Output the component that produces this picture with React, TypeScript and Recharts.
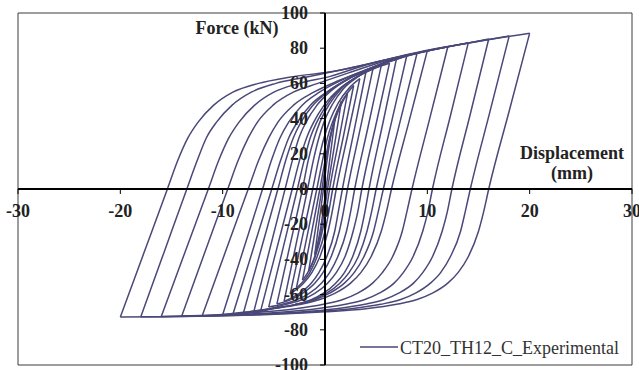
import React from "react";
import { LineChart, Line, XAxis, YAxis, ReferenceLine, ReferenceDot, ReferenceArea } from "recharts";

type Pt = [number, number];

const xTicks = [-30, -20, -10, 0, 10, 20, 30];
const yTicks = [-100, -80, -60, -40, -20, 0, 20, 40, 60, 80, 100];
const seriesName = "CT20_TH12_C_Experimental";
const xTitle = ["Displacement", "(mm)"];
const yTitle = "Force (kN)";

// Reloading branches (negative peak -> positive peak), displacement mm / force kN
const up20: Pt[] = [[-20,-72.7],[-17.7,-36.4],[-15.4,0],[-14.4,16],[-13.4,29],[-12.4,38],[-10.9,47.5],[-9,55],[-6.5,60],[-3.5,63.5],[0.4,66.5],[10,78.8],[20,88.5]];
const up18: Pt[] = [[-18,-72.6],[-15.75,-36.3],[-13.5,0],[-12.5,16],[-11.6,29],[-10.6,38],[-9.1,47.5],[-7.2,55],[-4.8,60],[-1.9,63.5],[2,68.2],[10,78.6],[18,87]];
const up16: Pt[] = [[-16,-72.5],[-13.7,-36.2],[-11.4,0],[-10.4,16],[-9.4,29],[-8.4,38],[-6.9,47.5],[-5,55],[-2.5,60],[0.5,64],[4.4,71.2],[10,78.4],[16,85.3]];
const up14: Pt[] = [[-14,-72.2],[-11.75,-36.1],[-9.5,0],[-8.5,16],[-7.5,29],[-6.6,38],[-5.1,47.5],[-3.1,55],[-0.7,60],[2.3,66],[6.2,73.3],[14,83]];
const up12: Pt[] = [[-12,-72],[-9.75,-36],[-7.5,0],[-6.5,16],[-5.5,29],[-4.6,38],[-3.1,47.5],[-1.1,55],[1.3,61.5],[4.3,68.2],[8.2,75.8],[12,80.8]];
const up10: Pt[] = [[-10,-71.5],[-8.05,-35.8],[-6.1,0],[-5.25,16],[-4.4,29],[-3.55,38],[-2.25,47.5],[-0.55,55],[1.6,61.8],[4.15,68.1],[7.6,75],[10,78.6]];
const up9: Pt[] = [[-9,-71.2],[-7.1,-35.6],[-5.2,0],[-4.35,16],[-3.55,29],[-2.7,38],[-1.45,47.5],[0.2,55.2],[2.3,62.5],[4.8,68.8],[8.1,76.1],[9,77.3]];
const up8: Pt[] = [[-8,-71],[-6.3,-35.5],[-4.6,0],[-3.85,16],[-3.1,29],[-2.35,38],[-1.2,47.5],[0.3,55.3],[2.2,62.4],[4.4,68.4],[7.4,75.2],[8,76]];
const up7: Pt[] = [[-7,-70.7],[-5.45,-35.4],[-3.9,0],[-3.2,16],[-2.55,29],[-1.85,38],[-0.8,47.5],[0.55,55.6],[2.25,62.5],[4.3,68.3],[7,74.5]];
const up6: Pt[] = [[-6.3,-69.5],[-4.75,-34.75],[-3.2,0],[-2.5,16],[-1.8,29],[-1.1,38],[-0.1,47.5],[1.3,56.4],[3.05,63.4],[5.1,69.1],[6.3,71.5]];
const up5: Pt[] = [[-5.5,-67.1],[-4.1,-33.6],[-2.7,0],[-2.05,16],[-1.45,29],[-0.8,38],[0.15,47.7],[1.4,56.6],[3,63.3],[4.9,68.9],[5.5,70.2]];
const up4b: Pt[] = [[-4.7,-65.3],[-3.45,-32.7],[-2.2,0],[-1.65,16],[-1.05,29],[-0.5,38],[0.4,47.9],[1.55,56.7],[3,63.3],[4.7,68.7]];
const up4: Pt[] = [[-4,-63.9],[-2.85,-32],[-1.7,0],[-1.15,16],[-0.6,29],[-0.1,38],[0.75,48.3],[1.8,57],[3.15,63.5],[4,66.5]];
const up3b: Pt[] = [[-3.4,-59.6],[-2.3,-29.8],[-1.2,0],[-0.65,16],[-0.1,29],[0.45,38.5],[1.3,48.9],[2.4,57.6],[3.4,62.7]];
const up3: Pt[] = [[-2.8,-56.4],[-1.8,-28.2],[-0.8,0],[-0.25,16],[0.25,29.3],[0.8,38.9],[1.6,49.2],[2.8,58.8]];
const up2: Pt[] = [[-2.2,-51.8],[-1.35,-25.9],[-0.5,0],[0,16],[0.47,29.5],[0.96,39],[1.7,49.3],[2.2,54.4]];
const up1b: Pt[] = [[-1.6,-46.7],[-0.95,-23.4],[-0.3,0],[0.1,16.1],[0.53,29.6],[0.94,39],[1.6,49.8]];
const up1: Pt[] = [[-1,-37.3],[-0.58,-18.7],[-0.15,0],[0.2,16.2],[0.55,29.6],[1,41.1]];

// Unloading branches (positive peak -> negative peak), listed by increasing displacement
const dn20: Pt[] = [[-20,-72.7],[-6,-71.4],[0,-69.8],[4,-68],[7,-65.5],[9,-62.8],[10.5,-59.2],[12,-53.5],[13,-47.5],[14,-38.5],[15,-24],[15.5,-13],[16,0],[18,44.3],[20,88.5]];
const dn18: Pt[] = [[-18,-72.6],[-7.2,-71.4],[-1.3,-69.9],[2.55,-68],[5.45,-65.5],[7.4,-62.8],[8.85,-59.2],[10.3,-53.5],[11.3,-47.5],[12.25,-38.5],[13.25,-24],[13.7,-13],[14.2,0],[16.1,43.5],[18,87]];
const dn16: Pt[] = [[-16,-72.5],[-8.35,-71.5],[-2.7,-70],[1.1,-68],[3.9,-65.5],[5.8,-62.8],[7.2,-59.2],[8.65,-53.5],[9.55,-47.5],[10.5,-38.5],[11.45,-24],[11.95,-13],[12.4,0],[14.2,42.6],[16,85.3]];
const dn14: Pt[] = [[-14,-72.2],[-10.25,-71.6],[-4.6,-70.1],[-0.8,-68],[2,-65.5],[3.9,-62.8],[5.3,-59.2],[6.75,-53.5],[7.65,-47.5],[8.6,-38.5],[9.55,-24],[10.05,-13],[10.5,0],[12.25,41.5],[14,83]];
const dn12: Pt[] = [[-12,-72],[-6.9,-70.2],[-3.05,-68.2],[-0.15,-65.5],[1.75,-62.8],[3.2,-59.2],[4.65,-53.5],[5.6,-47.5],[6.6,-38.5],[7.55,-24],[8,-13],[8.5,0],[10.25,40.4],[12,80.8]];
const dn10: Pt[] = [[-10,-71.5],[-5.5,-68.3],[-2.5,-65.7],[-0.5,-62.8],[1,-59.2],[2.5,-53.5],[3.5,-47.5],[4.5,-38.5],[5.5,-24],[6,-13],[6.5,0],[8.25,39.3],[10,78.6]];
const dn9: Pt[] = [[-9,-71.2],[-5.75,-68.35],[-2.85,-65.7],[-0.95,-62.9],[0.45,-59.2],[1.9,-53.5],[2.85,-47.5],[3.8,-38.5],[4.75,-24],[5.2,-13],[5.7,0],[7.35,38.6],[9,77.3]];
const dn8: Pt[] = [[-8,-71],[-5.6,-68.3],[-2.95,-65.7],[-1.2,-62.9],[0.15,-59.2],[1.45,-53.5],[2.35,-47.5],[3.25,-38.5],[4.1,-24],[4.55,-13],[5,0],[6.5,38],[8,76]];
const dn7: Pt[] = [[-7,-70.7],[-5.4,-68.3],[-2.95,-65.7],[-1.35,-62.9],[-0.15,-59.2],[1.05,-53.5],[1.9,-47.5],[2.7,-38.5],[3.5,-24],[3.9,-13],[4.3,0],[5.65,37.2],[7,74.5]];
const dn6: Pt[] = [[-6.3,-69.5],[-3.9,-65.7],[-2.25,-62.9],[-1,-59.3],[0.25,-53.5],[1.1,-47.5],[1.95,-38.5],[2.75,-24],[3.2,-13],[3.6,0],[4.95,35.8],[6.3,71.5]];
const dn5: Pt[] = [[-5.5,-67.1],[-4.4,-65.8],[-2.8,-63],[-1.55,-59.3],[-0.35,-53.5],[0.45,-47.5],[1.25,-38.5],[2.1,-24],[2.5,-13],[2.9,0],[4.2,35.1],[5.5,70.2]];
const dn4b: Pt[] = [[-4.7,-65.3],[-3.4,-63],[-2.2,-59.3],[-1,-53.6],[-0.2,-47.5],[0.6,-38.5],[1.4,-24],[1.8,-13],[2.2,0],[3.45,34.4],[4.7,68.7]];
const dn4: Pt[] = [[-4,-63.9],[-2.5,-59.35],[-1.35,-53.6],[-0.6,-47.5],[0.17,-38.5],[0.95,-24],[1.3,-13],[1.7,0],[2.85,33.3],[4,66.5]];
const dn3b: Pt[] = [[-3.4,-59.6],[-2.1,-53.6],[-1.3,-47.6],[-0.5,-38.5],[0.3,-24],[0.7,-13],[1.1,0],[2.25,31.4],[3.4,62.7]];
const dn3: Pt[] = [[-2.8,-56.4],[-2.3,-53.6],[-1.5,-47.6],[-0.77,-38.5],[0,-24],[0.37,-13],[0.75,0],[1.78,29.4],[2.8,58.8]];
const dn2: Pt[] = [[-2.2,-51.8],[-1.7,-47.6],[-0.97,-38.6],[-0.26,-24],[0.1,-13],[0.45,0],[1.33,27.2],[2.2,54.4]];
const dn1b: Pt[] = [[-1.6,-46.7],[-1.02,-38.6],[-0.38,-24],[-0.07,-13],[0.25,0],[0.93,24.9],[1.6,49.8]];
const dn1: Pt[] = [[-1,-37.3],[-0.48,-24],[-0.19,-13],[0.1,0],[0.55,20.6],[1,41.1]];

const branches: Pt[][] = [
  up1, dn1, up1b, dn1b, up2, dn2, up3, dn3, up3b, dn3b, up4, dn4, up4b, dn4b,
  up5, dn5, up6, dn6, up7, dn7, up8, dn8, up9, dn9, up10, dn10, up12, dn12,
  up14, dn14, up16, dn16, up18, dn18, up20, dn20,
];

const W = 639;
const H = 370;
const FONT = '"Liberation Serif", "Times New Roman", Times, serif';
const LINE = "#4a4878";

const XTick = (p: any) => (
  <g>
    <line x1={p.cx} y1={p.cy} x2={p.cx} y2={p.cy + 5} stroke="#000" strokeWidth={1} />
    <text x={p.cx} y={p.cy + 28} textAnchor="middle" fontFamily={FONT} fontWeight="bold" fontSize={18} fill="#222">
      {p.v}
    </text>
  </g>
);

const YTick = (p: any) => (
  <g>
    <line x1={p.cx - 5} y1={p.cy} x2={p.cx} y2={p.cy} stroke="#000" strokeWidth={1} />
    <text x={p.cx - 17} y={p.cy + 6} textAnchor="end" fontFamily={FONT} fontWeight="bold" fontSize={18} fill="#222">
      {p.v}
    </text>
  </g>
);

export default function App() {
  return (
    <div style={{ position: "absolute", left: 0, top: 0, width: W, height: H, background: "#fff", overflow: "hidden" }}>
      <LineChart width={W} height={H} margin={{ top: 13, right: 7, bottom: 5, left: 18 }}>
        <XAxis type="number" dataKey="x" domain={[-30, 30]} ticks={xTicks} hide allowDataOverflow />
        <YAxis type="number" dataKey="y" domain={[-100, 100]} ticks={yTicks} hide allowDataOverflow />
        <ReferenceArea x1={-30} x2={30} y1={-100} y2={100} fill="none" fillOpacity={0} stroke="#3c3c3c" strokeWidth={1} ifOverflow="visible" />
        {xTicks.map((v) => (
          <ReferenceDot key={"xt" + v} x={v} y={0} r={0} ifOverflow="visible" shape={(p: any) => <XTick {...p} v={v} />} />
        ))}
        {yTicks.map((v) => (
          <ReferenceDot key={"yt" + v} x={0} y={v} r={0} ifOverflow="visible" shape={(p: any) => <YTick {...p} v={v} />} />
        ))}
        {branches.map((b, i) => (
          <Line
            key={"b" + i}
            data={b.map(([x, y]) => ({ x, y }))}
            dataKey="y"
            type="monotone"
            stroke={LINE}
            strokeWidth={1.5}
            dot={false}
            activeDot={false}
            isAnimationActive={false}
            legendType="none"
            name={seriesName}
          />
        ))}
        <ReferenceLine y={0} stroke="#000" strokeWidth={2} ifOverflow="visible" />
        <ReferenceLine x={0} stroke="#000" strokeWidth={2} ifOverflow="visible" />
      </LineChart>
      <svg width={W} height={H} style={{ position: "absolute", left: 0, top: 0, pointerEvents: "none" }}>
        <text x={237} y={34} textAnchor="middle" fontFamily={FONT} fontWeight="bold" fontSize={18} fill="#222">{yTitle}</text>
        <text x={572} y={159} textAnchor="middle" fontFamily={FONT} fontWeight="bold" fontSize={18} fill="#222">{xTitle[0]}</text>
        <text x={572} y={179} textAnchor="middle" fontFamily={FONT} fontWeight="bold" fontSize={18} fill="#222">{xTitle[1]}</text>
        <line x1={360} y1={347} x2={398} y2={347} stroke={LINE} strokeWidth={1.5} />
        <text x={400} y={354} fontFamily={FONT} fontSize={18} fill="#333">{seriesName}</text>
      </svg>
    </div>
  );
}
